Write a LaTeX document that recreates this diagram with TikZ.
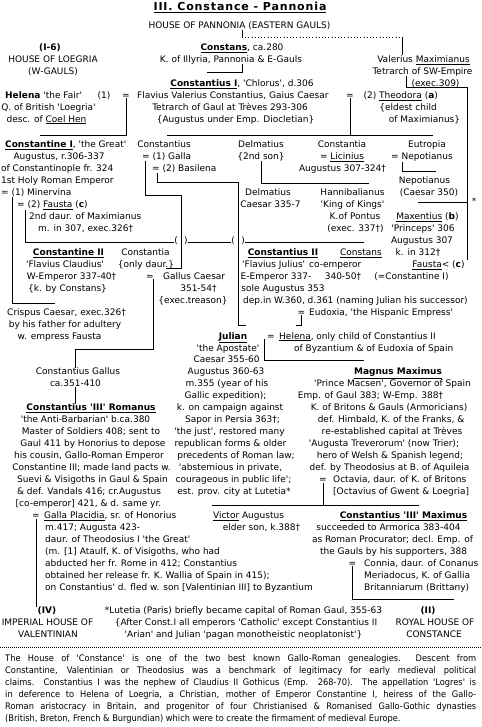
\documentclass[tikz,border=0pt]{standalone}
\usepackage{fontspec}
\newfontfamily\genfont{DejaVu Sans}
\newfontfamily\titlefont{DejaVu Sans}[LetterSpace=8]
\newfontfamily\parafont{DejaVu Sans}[FakeStretch=0.92]
\usepackage{tikz}

\begin{document}
\begin{tikzpicture}[
        x=1pt, y=-11.95pt,
        font=\genfont\fontsize{9pt}{11.95pt}\selectfont,
        txt/.style={anchor=base, inner sep=0pt},
        txtw/.style={anchor=base west, inner sep=0pt},
        head/.style={txt, font=\genfont\fontsize{9pt}{11.95pt}\selectfont\bfseries},
        link/.style={draw, line width=0.8pt},
        dots/.style={draw, line width=0.8pt, dash pattern=on 0.8pt off 2.4pt},
        rule/.style={draw, line width=0.7pt, dash pattern=on 0.7pt off 1.3pt}
        ]
        \useasboundingbox (0,-1.372) rectangle (481,59.464);

        % Nodes
        \node [txt, font=\titlefont\fontsize{11pt}{13pt}\selectfont\bfseries] (title) at (240,-0.5) {\underline{III. Constance - Pannonia}};
        \node [txt] (pannonia) at (239.5,1) {HOUSE OF PANNONIA (EASTERN GAULS)};
        \node [head] (houseI) at (50,2.85) {(I-6)};
        \node [txt] (loegria) at (53,3.85) {HOUSE OF LOEGRIA};
        \node [txt] (wgauls) at (53,4.85) {(W-GAULS)};
        \node [txt] (constans) at (242,2.85) {\underline{\textbf{Constans}}, ca.280};
        \node [txt] (illyria) at (231,3.85) {K. of Illyria, Pannonia \& E-Gauls};
        \node [txt] (maximianus) at (423.5,3.85) {Valerius \underline{Maximianus}};
        \node [txt] (tetrarchsw) at (422.5,4.85) {Tetrarch of SW-Empire};
        \node [txt] (chlorus) at (242,5.85) {\underline{\textbf{Constantius I}}, 'Chlorus', d.306};
        \node [txt] (execM) at (435.5,5.85) {(exec.309)};
        \node [txtw] (helena) at (5,6.85) {\textbf{Helena} 'the Fair'};
        \node [txt] (helenaone) at (104,6.85) {(1)};
        \node [txt] (eqA) at (126,6.85) {=};
        \node [txtw] (flavius) at (137,6.85) {Flavius Valerius Constantius, Gaius Caesar};
        \node [txt] (eqB) at (350,6.85) {=};
        \node [txt] (theodtwo) at (370,6.85) {(2)};
        \node [txtw] (theodora) at (379,6.85) {\underline{Theodora} (\textbf{a})};
        \node [txt] (britqueen) at (48.5,7.85) {Q. of British 'Loegria'};
        \node [txt] (tetrarchg) at (230,7.85) {Tetrarch of Gaul at Trèves 293-306};
        \node [txt] (eldest) at (408,7.85) {\{eldest child};
        \node [txt] (coel) at (46.5,8.85) {desc. of \underline{Coel Hen}};
        \node [txt] (augdio) at (235.5,8.85) {\{Augustus under Emp. Diocletian\}};
        \node [txt] (ofmax) at (424.5,8.85) {of Maximianus\}};

        \node [txtw] (constantine) at (5,11) {\underline{\textbf{Constantine I}}, 'the Great'};
        \node [txt] (jconst) at (164,11) {Constantius};
        \node [txt] (delm) at (261,11) {Delmatius};
        \node [txt] (constantiaL) at (342,11) {Constantia};
        \node [txt] (eutropia) at (427,11) {Eutropia};
        \node [txt] (augr) at (59,12) {Augustus, r.306-337};
        \node [txtw] (galla) at (142,12) {= (1) Galla};
        \node [txt] (secson) at (261,12) {\{2nd son\}};
        \node [txt] (licinius) at (342,12) {= \underline{Licinius}};
        \node [txtw] (nepotA) at (391,12) {= Nepotianus};
        \node [txtw] (cpl) at (1,13) {of Constantinople fr. 324};
        \node [txtw] (basilena) at (152,13) {= (2) Basilena};
        \node [txt] (auglic) at (342.5,13) {Augustus 307-324†};
        \node [txtw] (holy) at (1,14) {1st Holy Roman Emperor};
        \node [txt] (nepotB) at (424.5,14) {Nepotianus};
        \node [txtw] (minervina) at (1,15) {= (1) Minervina};
        \node [txt] (delmC) at (268,15) {Delmatius};
        \node [txt] (hanni) at (352.5,15) {Hannibalianus};
        \node [txt] (caesarN) at (429,15) {(Caesar 350)};
        \node [txtw] (fausta) at (17,16) {= (2) \underline{Fausta} (\textbf{c})};
        \node [txt] (caesarD) at (270.5,16) {Caesar 335-7};
        \node [txt] (kings) at (352.5,16) {'King of Kings'};
        \node [txt] (star) at (474,15.7) {*};
        \node [txtw] (daur2) at (29,17) {2nd daur. of Maximianus};
        \node [txt] (pontus) at (355,17) {K.of Pontus};
        \node [txt] (maxentius) at (427.5,17) {\underline{Maxentius} (\textbf{b})};
        \node [txtw] (m307) at (38,18) {m. in 307, exec.326†};
        \node [txt] (exec337) at (355.5,18) {(exec. 337†)};
        \node [txt] (princeps) at (423,18) {'Princeps' 306};
        \node [txt] (lpA) at (176,19) {(};
        \node [txt] (rpA) at (186,19) {)};
        \node [txt] (lpB) at (233,19) {(};
        \node [txt] (rpB) at (243,19) {)};
        \node [txt] (aug307) at (422,19) {Augustus 307};
        \node [txt] (constantineII) at (68.5,20) {\underline{\textbf{Constantine II}}};
        \node [txt] (constantiaD) at (145.5,20) {Constantia};
        \node [txt] (constantiusII) at (283,20) {\underline{\textbf{Constantius II}}};
        \node [txt] (constansII) at (361,20) {\underline{Constans}};
        \node [txt] (k312) at (418,20) {k. in 312†};
        \node [txt] (fclaud) at (65,21) {'Flavius Claudius'};
        \node [txt] (onlydaur) at (146,21) {\{only daur.\}};
        \node [txtw] (fjul) at (242,21) {'Flavius Julius'};
        \node [txtw] (coemp) at (309,21) {co-emperor};
        \node [txt] (faustaR) at (438.5,21) {\underline{Fausta}< (\textbf{c})};
        \node [txt] (wemp) at (71.5,22) {W-Emperor 337-40†};
        \node [txt] (eqG) at (150,22) {=};
        \node [txtw] (gallusC) at (163,22) {Gallus Caesar};
        \node [txt] (eemp) at (276,22) {E-Emperor 337-};
        \node [txt] (c340) at (343,22) {340-50†};
        \node [txt] (eqconst) at (411.5,22) {(=Constantine I)};
        \node [txt] (kby) at (67.5,23) {\{k. by Constans\}};
        \node [txt] (g351) at (198.5,23) {351-54†};
        \node [txt] (sole) at (283,23) {sole Augustus 353};
        \node [txt] (treason) at (193,24) {\{exec.treason\}};
        \node [txtw] (dep) at (243,24) {dep.in W.360, d.361 (naming Julian his successor)};
        \node [txt] (crispus) at (66.5,25) {Crispus Caesar, exec.326†};
        \node [txt] (eqE) at (301.5,25) {=};
        \node [txtw] (eudoxiaN) at (309,25) {Eudoxia, 'the Hispanic Empress'};
        \node [txt] (father) at (65,26) {by his father for adultery};
        \node [txt] (empress) at (59.5,27) {w. empress Fausta};
        \node [txt] (julian) at (233,27) {\underline{\textbf{Julian}}};
        \node [txt] (eqJ) at (271,27) {=};
        \node [txtw] (helenaB) at (279,27) {\underline{Helena}, only child of Constantius II};
        \node [txt] (apostate) at (228,28) {'the Apostate'};
        \node [txtw] (byz) at (294,28) {of Byzantium \& of Eudoxia of Spain};
        \node [txt] (caesarJ) at (226.5,29) {Caesar 355-60};
        \node [txt] (cgallus) at (78,30) {Constantius Gallus};
        \node [txt] (augJ) at (226,30) {Augustus 360-63};
        \node [txt] (magnus) at (398,30) {\underline{\textbf{Magnus Maximus}}};
        \node [txt] (ca351) at (75.5,31) {ca.351-410};
        \node [txt] (m355) at (227,31) {m.355 (year of his};
        \node [txt] (macsen) at (392.5,31) {'Prince Macsen', Governor of Spain};
        \node [txt] (gallic) at (225.5,32) {Gallic expedition);};
        \node [txt] (empgaul) at (370.5,32) {Emp. of Gaul 383; W-Emp. 388†};
        \node [txt] (romanus) at (91,33) {\underline{\textbf{Constantius 'III' Romanus}}};
        \node [txt] (campaign) at (230,33) {k. on campaign against};
        \node [txt] (britons) at (389,33) {K. of Britons \& Gauls (Armoricians)};
        \node [txt] (anti) at (85.5,34) {'the Anti-Barbarian' b.ca.380};
        \node [txt] (sapor) at (232.5,34) {Sapor in Persia 363†;};
        \node [txt] (himbald) at (391,34) {def. Himbald, K. of the Franks, \&};
        \node [txt] (master) at (91,35) {Master of Soldiers 408; sent to};
        \node [txt] (just) at (229.5,35) {'the just', restored many};
        \node [txt] (treves) at (392,35) {re-established capital at Trèves};
        \node [txt] (gaul411) at (93,36) {Gaul 411 by Honorius to depose};
        \node [txt] (republican) at (230.5,36) {republican forms \& older};
        \node [txt] (trier) at (384,36) {'Augusta Treverorum' (now Trier);};
        \node [txt] (cousin) at (89,37) {his cousin, Gallo-Roman Emperor};
        \node [txt] (precedents) at (236,37) {precedents of Roman law;};
        \node [txt] (hero) at (390,37) {hero of Welsh \& Spanish legend;};
        \node [txt] (pacts) at (91.5,38) {Constantine III; made land pacts w.};
        \node [txt] (abstem) at (230.5,38) {'abstemious in private,};
        \node [txt] (aquileia) at (389.5,38) {def. by Theodosius at B. of Aquileia};
        \node [txt] (suevi) at (92.5,39) {Suevi \& Visigoths in Gaul \& Spain};
        \node [txt] (courage) at (233.5,39) {courageous in public life';};
        \node [txt] (eqO) at (323,39) {=};
        \node [txtw] (octavia) at (333,39) {Octavia, daur. of K. of Britons};
        \node [txt] (vandals) at (89,40) {\& def. Vandals 416; cr.Augustus};
        \node [txt] (lutetia) at (234,40) {est. prov. city at Lutetia*};
        \node [txtw] (octavius) at (333,40) {[Octavius of Gwent \& Loegria]};
        \node [txt] (coemp421) at (88.5,41) {[co-emperor] 421, \& d. same yr.};
        \node [txt] (eqP) at (36,42) {=};
        \node [txtw] (placidia) at (44,42) {\underline{Galla Placidia}, sr. of Honorius};
        \node [txt] (victor) at (248.5,42) {\underline{Victor} Augustus};
        \node [txt] (cmax) at (403.5,42) {\underline{\textbf{Constantius 'III' Maximus}}};
        \node [txtw] (m417) at (45,43) {m.417; Augusta 423-};
        \node [txt] (elder) at (261.5,43) {elder son, k.388†};
        \node [txt] (armorica) at (388.5,43) {succeeded to Armorica 383-404};
        \node [txtw] (theodosius) at (45,44) {daur. of Theodosius I 'the Great'};
        \node [txt] (procurator) at (392.5,44) {as Roman Procurator; decl. Emp. of};
        \node [txtw] (ataulf) at (45,45) {(m. [1] Ataulf, K. of Visigoths, who had};
        \node [txt] (supporters) at (393.5,45) {the Gauls by his supporters, 388};
        \node [txtw] (abducted) at (45,46) {abducted her fr. Rome in 412; Constantius};
        \node [txt] (eqC) at (352.5,46) {=};
        \node [txtw] (connia) at (364,46) {Connia, daur. of Conanus};
        \node [txtw] (wallia) at (45,47) {obtained her release fr. K. Wallia of Spain in 415);};
        \node [txtw] (meriadocus) at (364,47) {Meriadocus, K. of Gallia};
        \node [txtw] (fled) at (45,48) {on Constantius' d. fled w. son [Valentinian III] to Byzantium};
        \node [txtw] (brittany) at (364,48) {Britanniarum (Brittany)};
        \node [head] (houseIV) at (47,50) {(IV)};
        \node [txt] (lutnote) at (243.5,50) {*Lutetia (Paris) briefly became capital of Roman Gaul, 355-63};
        \node [head] (houseII) at (428,50) {(II)};
        \node [txt] (imperial) at (47.5,51) {IMPERIAL HOUSE OF};
        \node [txt] (catholic) at (246,51) {\{After Const.I all emperors 'Catholic' except Constantius II};
        \node [txt] (royal) at (435,51) {ROYAL HOUSE OF};
        \node [txt] (valentinian) at (48,52) {VALENTINIAN};
        \node [txt] (arian) at (243.5,52) {'Arian' and Julian 'pagan monotheistic neoplatonist'\}};
        \node [txt] (constance) at (434,52) {CONSTANCE};

        \node [txtw, font=\parafont\fontsize{9pt}{11.8pt}\selectfont] (para1) at (5,54) {\makebox[471pt][s]{The House of 'Constance' is one of the two best known Gallo-Roman genealogies.\ \ Descent from}};
        \node [txtw, font=\parafont\fontsize{9pt}{11.8pt}\selectfont] (para2) at (5,55) {\makebox[471pt][s]{Constantine, Valentinian or Theodosius was a benchmark of legitimacy for early medieval political}};
        \node [txtw, font=\parafont\fontsize{9pt}{11.8pt}\selectfont] (para3) at (5,56) {\makebox[471pt][s]{claims.\ \ Constantius I was the nephew of Claudius II Gothicus (Emp. 268-70).\ \ The appellation 'Logres' is}};
        \node [txtw, font=\parafont\fontsize{9pt}{11.8pt}\selectfont] (para4) at (5,57) {\makebox[471pt][s]{in deference to Helena of Loegria, a Christian, mother of Emperor Constantine I, heiress of the Gallo-}};
        \node [txtw, font=\parafont\fontsize{9pt}{11.8pt}\selectfont] (para5) at (5,58) {\makebox[471pt][s]{Roman aristocracy in Britain, and progenitor of four Christianised \& Romanised Gallo-Gothic dynasties}};
        \node [txtw, font=\parafont\fontsize{9pt}{11.8pt}\selectfont] (para6) at (5,59) {(British, Breton, French \& Burgundian) which were to create the firmament of medieval Europe.};

        % Junctions
        \coordinate (dotL) at (242,1.72);
        \coordinate (dotR) at (402,1.72);
        \coordinate (chlorusL) at (207,4.7);
        \coordinate (maxL) at (406,5.95);
        \coordinate (maxR) at (467,5.95);
        \coordinate (maxentR) at (418,15.55);
        \coordinate (helK) at (40,10);
        \coordinate (theoL) at (167,10);
        \coordinate (theoR) at (433,10);
        \coordinate (delmR) at (369,13.95);
        \coordinate (nepL) at (402,13);
        \coordinate (nepR) at (436,13);
        \coordinate (gallaA) at (145,14.95);
        \coordinate (gallaB) at (181,14.95);
        \coordinate (gallaC) at (181,21.05);
        \coordinate (gallaD) at (166,21.05);
        \coordinate (basA) at (157,13.9);
        \coordinate (basB) at (238,13.9);
        \coordinate (basC) at (238,25.85);
        \coordinate (basD) at (246,25.85);
        \coordinate (crisA) at (12,24);
        \coordinate (crisB) at (55,24);
        \coordinate (fauA) at (25,18.9);
        \coordinate (fauB) at (364,18.9);
        \coordinate (galA) at (153,27.9);
        \coordinate (galB) at (75,27.9);
        \coordinate (eudA) at (296,25.85);
        \coordinate (julA) at (264,28.8);
        \coordinate (julK) at (364,28.8);
        \coordinate (octL) at (212,40.9);
        \coordinate (octR) at (419,40.9);
        \coordinate (conR) at (454,48.75);
        \coordinate (sepL) at (0,52.77);
        \coordinate (sepR) at (481,52.77);

        % Edges
        \path [link] (pannonia.south -| dotL) -- (dotL);
        \path [dots] (dotL) -- (dotR);
        \path [link] (dotR) -- (dotR |- maximianus.north);
        \path [link] (illyria.south -| constans) |- (chlorusL);
        \path [link] (tetrarchsw.south -| maxL) -- (maxL) -- (maxR) -- (maxR |- faustaR.north);
        \path [link] (maxentR) -- (maxentR -| maxR);
        \path [link] (eqA.south) |- (helK);
        \path [link] (eqB.south) -- (eqB.south |- theoL);
        \path [link] (theoL) -- (theoR);
        \path [link] (secson.south) |- (delmR);
        \path [link] (nepotA.south -| nepL) -- (nepL) -- (nepR);
        \path [link] (galla.south -| gallaA) -- (gallaA) -- (gallaB) -- (gallaC) -- (gallaD);
        \path [link] (basilena.south -| basA) -- (basA) -- (basB) -- (basC) -- (basD);
        \path [link] (minervina.south -| crisA) -- (crisA) -- (crisB);
        \path [link] (fausta.south -| fauA) -- (fauA) -- (fauA -| lpA.west);
        \path [link] (fauA -| rpA.east) -- (fauA -| lpB.west);
        \path [link] (fauA -| rpB.east) -- (fauB);
        \path [link] (eqG.south -| galA) -- (galA) -- (galB) -- (galB |- cgallus.north);
        \path [link] (ca351.south) -- (ca351.south |- romanus.north);
        \path [link] (eqP.south) -- (eqP.south |- houseIV.north);
        \path [link] (eqE.south) |- (eudA);
        \path [link] (eqJ.south -| julA) -- (julA) -- (julK);
        \path [link] (eqO.south) -- (eqO.south |- octL);
        \path [link] (octL) -- (octR);
        \path [link] (eqC.south) |- (conR);
        \path [rule] (sepL) -- (sepR);
    \end{tikzpicture}
\end{document}
